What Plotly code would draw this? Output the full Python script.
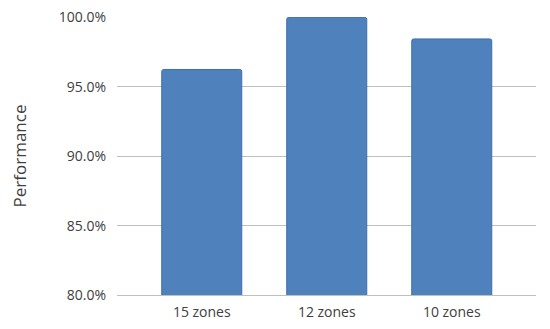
import plotly.graph_objects as go

zones = ["15 zones", "12 zones", "10 zones"]
performance = [96.25, 100.0, 98.45]
y_ticks = [80, 85, 90, 95, 100]
y_tick_labels = ["80.0%", "85.0%", "90.0%", "95.0%", "100.0%"]

fig = go.Figure()
fig.add_trace(go.Bar(
    x=[0, 1, 2],
    y=performance,
    base=0,
    width=0.64,
    marker=dict(color="#4F81BD", line=dict(color="#3C6DB0", width=1), cornerradius=2),
))

# the page body has an 8px margin, so the figure is shifted by that
fig.update_layout(
    width=542, height=321,
    margin=dict(l=109, r=14, t=9, b=34, autoexpand=False),
    paper_bgcolor="white", plot_bgcolor="white",
    font=dict(family="Open Sans, Liberation Sans, sans-serif", size=14, color="#404040"),
    showlegend=False,
)
fig.update_xaxes(
    range=[-0.678, 2.674],
    tickvals=[0, 1, 2], ticktext=zones,
    showgrid=False, zeroline=False,
    showline=True, linecolor="#BFBFBF", linewidth=1,
    ticks="", ticklabelstandoff=4, automargin=False,
)
fig.update_yaxes(
    range=[80, 100.03],
    tickvals=y_ticks, ticktext=y_tick_labels,
    showgrid=True, gridcolor="#BFBFBF", gridwidth=1,
    zeroline=False, showline=False,
    ticks="", ticklabelstandoff=10, automargin=False,
    ticklabeloverflow="allow",
    title=dict(text="Performance", standoff=30),
)

fig.write_html("out.html")
